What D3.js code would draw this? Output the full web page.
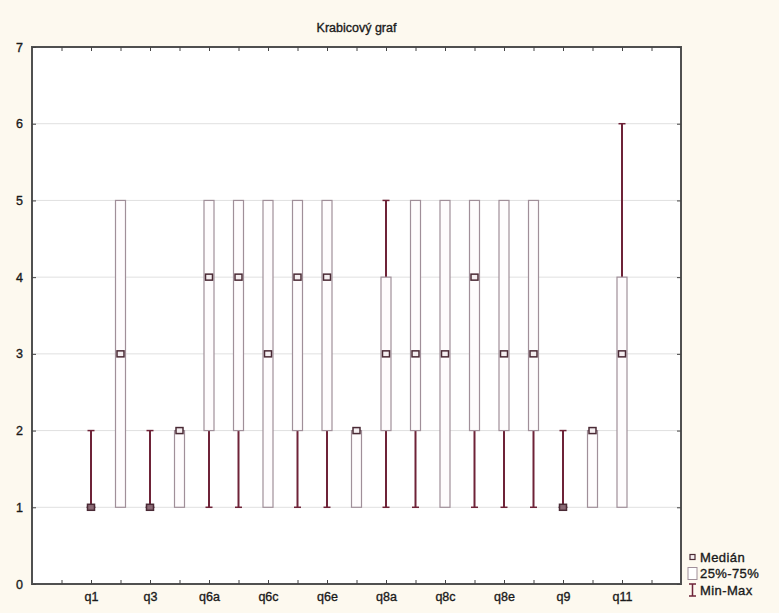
<!DOCTYPE html>
<html>
<head>
<meta charset="utf-8">
<script src="https://cdn.jsdelivr.net/npm/d3@7"></script>
<style>
  body { margin: 0; background: #fdf9ef; }
  svg { display: block; }
</style>
</head>
<body>
<div id="chart"></div>
<script>
const categories = ['q1','q2','q3','q4','q6a','q6b','q6c','q6d','q6e','q7','q8a','q8b','q8c','q8d','q8e','q8f','q9','q10','q11'];
const mins    = [1,1,1,1,1,1,1,1,1,1,1,1,1,1,1,1,1,1,1];
const lowers  = [1,1,1,1,2,2,1,2,2,1,2,2,1,2,2,2,1,1,1];
const medians = [1,3,1,2,4,4,3,4,4,2,3,3,3,4,3,3,1,2,3];
const uppers  = [1,5,1,2,5,5,5,5,5,2,4,5,5,5,5,5,1,2,4];
const maxs    = [2,5,2,2,5,5,5,5,5,2,5,5,5,5,5,5,2,2,6];
const yTicks = [0,1,2,3,4,5,6,7];
const legendItems = ['Medián', '25%-75%', 'Min-Max'];

const width = 779, height = 613;
const margin = { top: 47, right: 98, bottom: 29, left: 32 };
const font = '"Liberation Sans", Arial, sans-serif';
const whiskerColor = '#6e2338';
const boxColor = '#a08f99';

const svg = d3.select('#chart').append('svg')
  .attr('width', width).attr('height', height);

svg.append('rect').attr('width', width).attr('height', height).attr('fill', '#fdf9ef');

const x = d3.scaleLinear().domain([-2, categories.length + 1]).range([margin.left, width - margin.right]);
const y = d3.scaleLinear().domain([0, 7]).range([height - margin.bottom, margin.top]);

// plot area
svg.append('rect')
  .attr('x', x(-2)).attr('y', y(7))
  .attr('width', x(categories.length + 1) - x(-2))
  .attr('height', y(0) - y(7))
  .attr('fill', '#ffffff');

// grid
svg.append('g').selectAll('line').data(yTicks.slice(1, -1)).enter().append('line')
  .attr('x1', x(-2)).attr('x2', x(categories.length + 1))
  .attr('y1', d => y(d)).attr('y2', d => y(d))
  .attr('stroke', '#e0e0e0').attr('stroke-width', 1);

function txt(sel, size) {
  sel.attr('font-family', font).attr('font-size', size)
    .attr('fill', '#1a1a1a').attr('stroke', '#1a1a1a').attr('stroke-width', 0.35);
}

svg.append('text')
  .attr('x', (x(-2) + x(categories.length + 1)) / 2).attr('y', 32)
  .attr('text-anchor', 'middle')
  .call(txt, 12.5)
  .text('Krabicový graf');

const data = categories.map((c, i) => ({
  name: c, i, min: mins[i], lo: lowers[i], med: medians[i], hi: uppers[i], max: maxs[i]
}));

const boxW = 10;
const g = svg.append('g');
const item = g.selectAll('g').data(data).enter().append('g');

// whiskers
item.filter(d => d.min < d.lo).append('line')
  .attr('x1', d => x(d.i)).attr('x2', d => x(d.i))
  .attr('y1', d => y(d.min)).attr('y2', d => y(d.lo))
  .attr('stroke', whiskerColor).attr('stroke-width', 2);
item.filter(d => d.max > d.hi).append('line')
  .attr('x1', d => x(d.i)).attr('x2', d => x(d.i))
  .attr('y1', d => y(d.hi)).attr('y2', d => y(d.max))
  .attr('stroke', whiskerColor).attr('stroke-width', 2);
// caps
item.filter(d => d.max > d.hi).append('line')
  .attr('x1', d => x(d.i) - 3.5).attr('x2', d => x(d.i) + 3.5)
  .attr('y1', d => y(d.max)).attr('y2', d => y(d.max))
  .attr('stroke', whiskerColor).attr('stroke-width', 1.5);
item.filter(d => d.min < d.lo || d.lo === d.hi).append('line')
  .attr('x1', d => x(d.i) - 3.5).attr('x2', d => x(d.i) + 3.5)
  .attr('y1', d => y(d.min)).attr('y2', d => y(d.min))
  .attr('stroke', whiskerColor).attr('stroke-width', 1.5);

// boxes
item.filter(d => d.hi > d.lo).append('rect')
  .attr('x', d => x(d.i) - boxW / 2)
  .attr('y', d => y(d.hi))
  .attr('width', boxW)
  .attr('height', d => y(d.lo) - y(d.hi))
  .attr('fill', '#fefcfd')
  .attr('stroke', boxColor).attr('stroke-width', 1.2);
item.filter(d => d.hi === d.lo).append('line')
  .attr('x1', d => x(d.i) - boxW / 2).attr('x2', d => x(d.i) + boxW / 2)
  .attr('y1', d => y(d.lo)).attr('y2', d => y(d.lo))
  .attr('stroke', boxColor).attr('stroke-width', 1.2);

// medians
item.append('rect')
  .attr('x', d => x(d.i) - 3.5).attr('y', d => y(d.med) - 3)
  .attr('width', 7).attr('height', 6)
  .attr('fill', d => d.med === d.min ? '#8a6a75' : '#f4eef0')
  .attr('stroke', '#4a2a35').attr('stroke-width', 1.5);

// frame
svg.append('rect')
  .attr('x', x(-2)).attr('y', y(7))
  .attr('width', x(categories.length + 1) - x(-2))
  .attr('height', y(0) - y(7))
  .attr('fill', 'none').attr('stroke', '#505050').attr('stroke-width', 2);

// axes
const xTickVals = d3.range(-1, categories.length + 1);
const bottomAxis = d3.axisBottom(x).tickValues(xTickVals).tickSize(-4).tickPadding(8)
  .tickFormat(d => (d >= 0 && d < categories.length && d % 2 === 0) ? categories[d] : '');
const topAxis = d3.axisTop(x).tickValues(xTickVals).tickSize(-4).tickFormat('');
const leftAxis = d3.axisLeft(y).tickValues(yTicks).tickSize(-4).tickPadding(9).tickFormat(d3.format('d'));
const rightAxis = d3.axisRight(y).tickValues(yTicks).tickSize(-4).tickFormat('');

function style(sel) {
  sel.select('.domain').remove();
  sel.selectAll('.tick line').attr('stroke', '#444');
}
svg.append('g').attr('transform', `translate(0,${y(0)})`).call(bottomAxis).call(style)
  .selectAll('text').call(txt, 12.5);
svg.append('g').attr('transform', `translate(0,${y(7)})`).call(topAxis).call(style);
svg.append('g').attr('transform', `translate(${x(-2)},0)`).call(leftAxis).call(style)
  .selectAll('text').call(txt, 12.5);
svg.append('g').attr('transform', `translate(${x(categories.length + 1)},0)`).call(rightAxis).call(style);

// legend
const lx = x(categories.length + 1) + 8;
const legend = svg.append('g').selectAll('g').data(legendItems).enter().append('g')
  .attr('transform', (d, i) => `translate(${lx},${557 + i * 16.5})`);
legend.append('text')
  .attr('x', 11).attr('y', 4.5)
  .call(txt, 13)
  .attr('letter-spacing', 0.4)
  .text(d => d);
legend.filter((d, i) => i === 0).append('rect')
  .attr('x', 1).attr('y', -2.5).attr('width', 5).attr('height', 5)
  .attr('fill', '#f4eef0').attr('stroke', '#4a2a35').attr('stroke-width', 1.2);
legend.filter((d, i) => i === 1).append('rect')
  .attr('x', -1).attr('y', -6).attr('width', 9).attr('height', 12)
  .attr('fill', '#fff').attr('stroke', boxColor).attr('stroke-width', 1);
const mm = legend.filter((d, i) => i === 2);
mm.append('path')
  .attr('d', 'M0,-6H7M3.5,-6V6M0,6H7')
  .attr('fill', 'none').attr('stroke', whiskerColor).attr('stroke-width', 1.5);
</script>
</body>
</html>
